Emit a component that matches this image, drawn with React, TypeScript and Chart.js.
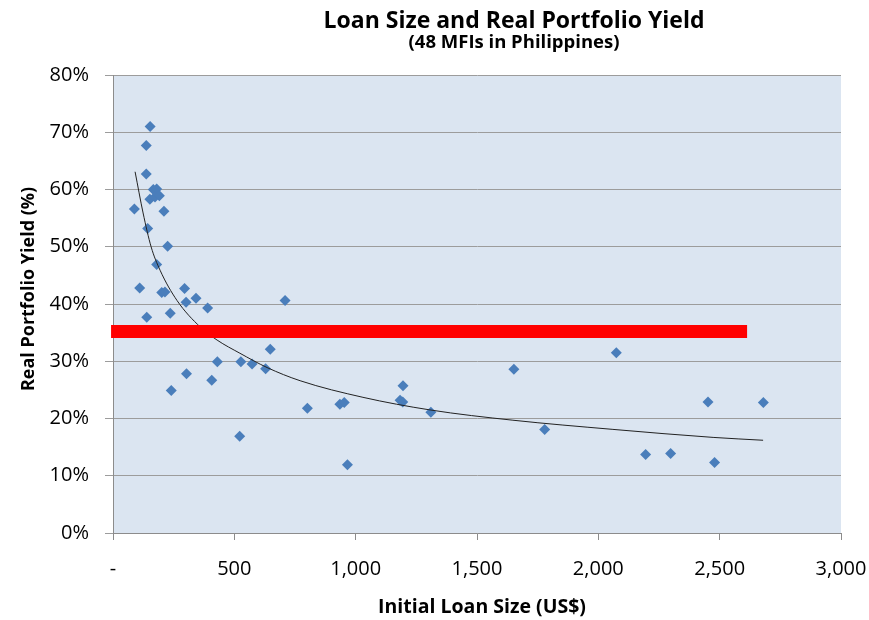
import React, { useEffect, useRef } from "react";
import { Chart, registerables } from "chart.js";

Chart.register(...registerables);

// ---- Data ----
const loanSize = [
  153, 137, 137, 166, 180, 152, 173, 191, 88, 210, 143, 225, 180, 110, 201, 214,
  295, 342, 301, 390, 709, 139, 236, 648, 430, 527, 573, 629, 303, 407, 240, 522,
  1195, 1183, 1194, 801, 935, 953, 1310, 966, 1652, 1779, 2074, 2195, 2298, 2452,
  2479, 2680,
];
const realYield = [
  71.0, 67.7, 62.7, 60.0, 60.1, 58.3, 58.7, 58.9, 56.6, 56.2, 53.2, 50.1, 46.9, 42.8, 42.0, 42.1,
  42.7, 41.0, 40.3, 39.3, 40.6, 37.7, 38.4, 32.1, 29.9, 29.9, 29.5, 28.7, 27.8, 26.7, 24.9, 16.9,
  25.7, 23.2, 22.9, 21.8, 22.5, 22.8, 21.1, 11.9, 28.6, 18.1, 31.5, 13.7, 13.9, 22.9,
  12.3, 22.8,
];
// Power trendline
const trendX = [91, 124, 157, 194, 264, 359, 429, 523, 635, 771, 1030, 1306, 1648, 2060, 2473, 2679];
const trendY = [63.1, 55.9, 50.0, 45.9, 40.6, 36.0, 33.7, 31.4, 28.9, 26.6, 23.7, 21.5, 19.7, 18.1, 16.7, 16.2];
// Red reference band
const refX = [-8, 2613];
const refY = [35.2, 35.2];

const xMin = 0, xMax = 3000, xStep = 500;
const yMin = 0, yMax = 80, yStep = 10;

const TITLE = "Loan Size and Real Portfolio Yield";
const SUBTITLE = "(48 MFIs in Philippines)";
const X_TITLE = "Initial Loan Size (US$)";
const Y_TITLE = "Real Portfolio Yield (%)";

const FONT = "'Open Sans', Lato, sans-serif";

const bgPlugin = {
  id: "plotBg",
  beforeDraw(chart: any) {
    const { ctx, chartArea } = chart;
    ctx.save();
    ctx.fillStyle = "#DBE5F1";
    ctx.fillRect(chartArea.left, chartArea.top, chartArea.right - chartArea.left, chartArea.bottom - chartArea.top);
    ctx.restore();
  },
};

const titlePlugin = {
  id: "titles",
  afterDraw(chart: any) {
    const ctx = chart.ctx;
    ctx.save();
    ctx.fillStyle = "#000";
    ctx.textAlign = "center";
    ctx.textBaseline = "alphabetic";
    ctx.font = `bold 23px ${FONT}`;
    ctx.fillText(TITLE, 514, 28);
    ctx.font = `bold 18.5px ${FONT}`;
    ctx.fillText(SUBTITLE, 514, 48);
    ctx.font = `bold 19.5px ${FONT}`;
    ctx.fillText(X_TITLE, 482, 613);
    ctx.translate(34, 289);
    ctx.rotate(-Math.PI / 2);
    ctx.font = `bold 18px ${FONT}`;
    ctx.fillText(Y_TITLE, 0, 0);
    ctx.restore();
  },
};

export default function App() {
  const ref = useRef<HTMLCanvasElement | null>(null);

  useEffect(() => {
    if (!ref.current) return;
    const scatter = loanSize.map((x, i) => ({ x, y: realYield[i] }));
    const trend = trendX.map((x, i) => ({ x, y: trendY[i] }));
    const refLine = refX.map((x, i) => ({ x, y: refY[i] }));

    const chart = new Chart(ref.current, {
      type: "scatter",
      data: {
        datasets: [
          {
            type: "line",
            label: "Reference",
            data: refLine,
            borderColor: "#FF0000",
            borderWidth: 13,
            borderCapStyle: "butt",
            pointRadius: 0,
            clip: false,
            order: 0,
          } as any,
          {
            type: "line",
            label: "Trend",
            data: trend,
            borderColor: "#222222",
            borderWidth: 1,
            pointRadius: 0,
            cubicInterpolationMode: "monotone",
            order: 1,
          } as any,
          {
            label: "MFIs",
            data: scatter,
            pointStyle: "rectRot",
            pointRadius: 5.5,
            backgroundColor: "#4A7EBB",
            borderColor: "#4A7EBB",
            borderWidth: 0,
            order: 2,
          } as any,
        ],
      },
      options: {
        animation: false,
        responsive: false,
        layout: { padding: { top: 75, right: 28, left: 0, bottom: 0 } },
        plugins: {
          legend: { display: false },
          title: { display: false },
          tooltip: { enabled: false },
        },
        scales: {
          x: {
            type: "linear",
            min: xMin,
            max: xMax,
            afterFit(scale: any) {
              scale.height = 87;
              scale.paddingLeft = 0;
              scale.paddingRight = 0;
            },
            ticks: {
              stepSize: xStep,
              color: "#000",
              font: { family: FONT, size: 20 },
              padding: 17,
              maxRotation: 0,
              callback: (v: any) => (Number(v) === 0 ? "-" : Number(v).toLocaleString("en-US")),
            },
            grid: {
              drawOnChartArea: false,
              drawTicks: true,
              tickLength: 7,
              color: "#8C8C8C",
            },
            border: { display: true, color: "#8C8C8C", width: 1 },
            title: { display: false },
          },
          y: {
            type: "linear",
            min: yMin,
            max: yMax,
            afterFit(scale: any) {
              scale.width = 113;
            },
            ticks: {
              stepSize: yStep,
              color: "#000",
              font: { family: FONT, size: 20 },
              padding: 16,
              callback: (v: any) => `${v}%`,
            },
            grid: {
              color: "#9C9C9C",
              tickLength: 8,
              drawTicks: true,
            },
            border: { display: true, color: "#8C8C8C", width: 1 },
            title: { display: false },
          },
        },
      } as any,
      plugins: [bgPlugin, titlePlugin],
    });
    return () => chart.destroy();
  }, []);

  return (
    <div style={{ position: "absolute", left: 0, top: 0, width: 869, height: 620, background: "#fff" }}>
      <canvas ref={ref} width={869} height={620} style={{ display: "block" }} />
    </div>
  );
}
